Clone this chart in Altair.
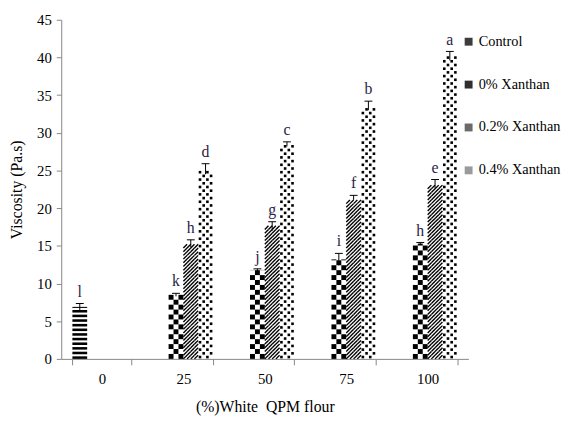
import altair as alt
import pandas as pd

# ---------------- data ----------------
categories = ["0", "25", "50", "75", "100"]
series_names = ["Control", "0% Xanthan", "0.2% Xanthan", "0.4% Xanthan"]

control_values = [6.9, None, None, None, None]
xan0_values = [None, 8.5, 11.8, 13.2, 15.3]
xan02_values = [None, 15.3, 17.6, 21.4, 23.2]
xan04_values = [None, 25.2, 28.5, 33.6, 40.2]

control_err = [0.45, None, None, None, None]
xan0_err = [None, 0.2, 0.15, 0.8, 0.15]
xan02_err = [None, 0.5, 0.6, 0.3, 0.6]
xan04_err = [None, 0.7, 0.3, 0.6, 0.6]

control_letters = ["l", None, None, None, None]
xan0_letters = [None, "k", "j", "i", "h"]
xan02_letters = [None, "h", "g", "f", "e"]
xan04_letters = [None, "d", "c", "b", "a"]

rows = []
for s, vals, errs, lets in [
    ("Control", control_values, control_err, control_letters),
    ("0% Xanthan", xan0_values, xan0_err, xan0_letters),
    ("0.2% Xanthan", xan02_values, xan02_err, xan02_letters),
    ("0.4% Xanthan", xan04_values, xan04_err, xan04_letters),
]:
    for c, v, e, l in zip(categories, vals, errs, lets):
        if v is not None:
            rows.append({"category": c, "series": s, "value": v, "err": e, "letter": l})
df = pd.DataFrame(rows)

# ---------------- layout / style ----------------
W, H, YMAX = 413, 344, 45
PX = H / YMAX  # pixels per data unit
FONT = "Liberation Serif"
AX = "#868686"

P_CTRL = 4.7 / PX          # horizontal stripe period
CHK_PX = 5.0               # checker cell size (px)
CHK = CHK_PX / PX
DG_PX = 3.75               # diagonal / dot cell size (px)
DG = DG_PX / PX

x_scale = alt.Scale(domain=categories, paddingInner=0.274, paddingOuter=0.137)
y_scale = alt.Scale(domain=[0, YMAX], nice=False)

x_axis = alt.Axis(labelAngle=0, tickBand="extent", tickSize=6, labelPadding=7, titlePadding=12,
                  labelFont=FONT, titleFont=FONT)
y_axis = alt.Axis(values=list(range(0, 50, 5)), tickSize=5, labelPadding=5, titlePadding=12,
                  labelFont=FONT, titleFont=FONT)

X_TITLE = "(%)White\u00a0 QPM flour"
Y_TITLE = "Viscosity (Pa.s)"

x_enc = alt.X("category:N", sort=categories, scale=x_scale, title=X_TITLE, axis=x_axis)


def y_enc(field):
    return alt.Y(field, type="quantitative", scale=y_scale, title=Y_TITLE, axis=y_axis)


def xoff(field, ncol, kind):
    dom = [f"{s}|{c}" for s in series_names for c in range(ncol)] if ncol else series_names
    if kind == "band":
        sc = alt.Scale(type="band", domain=dom, paddingInner=0, paddingOuter=0)
    else:  # point scale whose points sit at the band centres
        sc = alt.Scale(type="point", domain=dom, padding=0.5)
    return alt.XOffset(field, type="nominal", scale=sc)


base = alt.Chart(df)

# Control: horizontal stripes
ctrl = (
    base.transform_filter(alt.datum.series == "Control")
    .transform_calculate(k=f"sequence(0, datum.value, {P_CTRL})")
    .transform_flatten(["k"])
    .transform_calculate(y0="datum.k", y1=f"min(datum.k + {P_CTRL * 0.55}, datum.value)")
    .mark_bar(color="black")
    .encode(x=x_enc, xOffset=xoff("series", 0, "band"), y=y_enc("y0"), y2="y1:Q")
)

# 0% Xanthan: checkerboard
chk = (
    base.transform_filter(alt.datum.series == "0% Xanthan")
    .transform_calculate(n=f"ceil(datum.value / {CHK})")
    .transform_calculate(idx="sequence(0, datum.n * 3)")
    .transform_flatten(["idx"])
    .transform_calculate(r="floor(datum.idx / 3)")
    .transform_calculate(c="datum.idx % 3")
    .transform_filter("(datum.r + datum.c) % 2 == 0")
    .transform_calculate(y0=f"datum.r * {CHK}", y1=f"min((datum.r + 1) * {CHK}, datum.value)")
    .transform_calculate(sub="datum.series + '|' + datum.c")
    .mark_bar(color="black")
    .encode(x=x_enc, xOffset=xoff("sub", 3, "band"), y=y_enc("y0"), y2="y1:Q")
)

# 0.2% Xanthan: diagonal stripes
dg = (
    base.transform_filter(alt.datum.series == "0.2% Xanthan")
    .transform_calculate(n=f"floor(datum.value / {DG} + 0.35)")
    .transform_calculate(idx="sequence(0, datum.n * 4)")
    .transform_flatten(["idx"])
    .transform_calculate(r="floor(datum.idx / 4)")
    .transform_calculate(c="datum.idx % 4")
    .transform_calculate(yc=f"(datum.r + 0.5) * {DG}")
    .transform_calculate(sub="datum.series + '|' + datum.c")
    .mark_point(shape="M -1 1 L 1 -1", size=DG_PX ** 2, filled=False, color="black",
                strokeWidth=1.4, opacity=1)
    .encode(x=x_enc, xOffset=xoff("sub", 4, "point"), y=y_enc("yc"))
)

# 0.4% Xanthan: dots
dots = (
    base.transform_filter(alt.datum.series == "0.4% Xanthan")
    .transform_calculate(n=f"floor(datum.value / {DG} + 0.3)")
    .transform_calculate(idx="sequence(0, datum.n * 4)")
    .transform_flatten(["idx"])
    .transform_calculate(r="floor(datum.idx / 4)")
    .transform_calculate(c="datum.idx % 4")
    .transform_filter("(datum.r + datum.c) % 2 == 0")
    .transform_calculate(yc=f"(datum.r + 0.5) * {DG}")
    .transform_calculate(sub="datum.series + '|' + datum.c")
    .mark_square(size=7, color="black", opacity=1)
    .encode(x=x_enc, xOffset=xoff("sub", 4, "point"), y=y_enc("yc"))
)

# error bars
err_rule = (
    base.transform_calculate(lo="datum.value - datum.err", hi="datum.value + datum.err")
    .mark_rule(color="black", strokeWidth=1)
    .encode(x=x_enc, xOffset=xoff("series", 0, "point"), y=y_enc("lo"), y2="hi:Q")
)
err_cap = (
    base.transform_calculate(hi="datum.value + datum.err")
    .mark_tick(color="black", size=8, thickness=1, opacity=1)
    .encode(x=x_enc, xOffset=xoff("series", 0, "point"), y=y_enc("hi"))
)

# letters
letters = (
    base.transform_calculate(hi="datum.value + datum.err")
    .mark_text(font=FONT, fontSize=16, baseline="bottom", dy=-4, color="#2b2347")
    .encode(x=x_enc, xOffset=xoff("series", 0, "point"), y=y_enc("hi"), text="letter:N")
)

# legend carrier
legend_layer = base.mark_square(opacity=0, size=1).encode(
    x=x_enc,
    xOffset=xoff("series", 0, "point"),
    y=y_enc("value"),
    fill=alt.Fill(
        "series:N",
        scale=alt.Scale(domain=series_names, range=["#3c3c3c", "#2e2e2e", "#6a6a6a", "#9a9a9a"]),
        legend=alt.Legend(
            orient="none", legendX=406, legendY=15, title=None, symbolType="square",
            symbolSize=64, symbolOpacity=1, symbolStrokeWidth=0, labelFont=FONT,
            labelFontSize=14.5, labelColor="black", rowPadding=28.5, labelOffset=3, padding=0,
            labelLimit=200,
        ),
    ),
)

chart = (
    alt.layer(ctrl, chk, dg, dots, err_rule, err_cap, letters, legend_layer)
    .resolve_scale(xOffset="independent")
    .properties(
        width=W, height=H,
        autosize=alt.AutoSizeParams(type="none"),
        padding={"left": 54, "top": 9, "right": 97, "bottom": 55},
        background="white",
    )
    .configure(font=FONT)
    .configure_view(stroke=None)
    .configure_axis(
        grid=False, domainColor=AX, tickColor=AX, labelFont=FONT, labelFontSize=15,
        labelColor="black", titleFont=FONT, titleFontSize=16, titleFontWeight="normal",
        titleColor="black",
    )
    .configure_legend(labelFont=FONT)
)

chart.save("out.html", embed_options={"renderer": "svg", "actions": False})
